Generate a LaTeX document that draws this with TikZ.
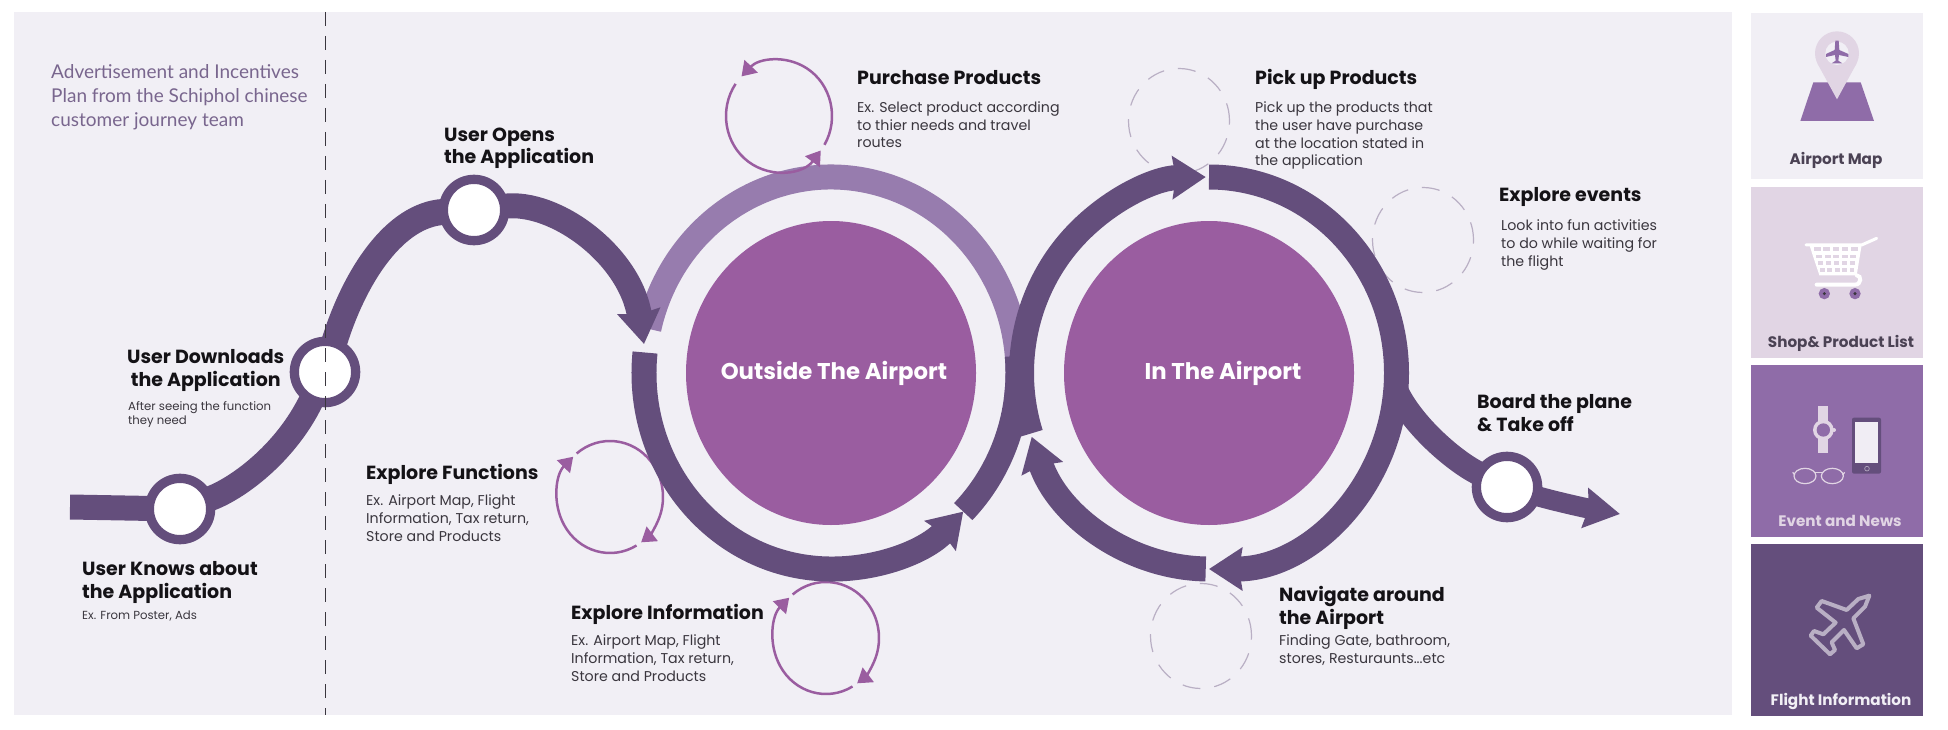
\documentclass[tikz,border=0pt]{standalone}
\usepackage{fontspec}
\setmainfont{Poppins}
\newfontfamily\notefont{Lato}
\usetikzlibrary{arrows.meta,shapes.geometric}
\definecolor{paper}{HTML}{F1EFF5}
\definecolor{plum}{HTML}{644E7C}
\definecolor{lilac}{HTML}{977CAE}
\definecolor{orchid}{HTML}{9A5DA0}
\definecolor{mauve}{HTML}{8F6CA8}
\definecolor{blush}{HTML}{E1D5E4}
\definecolor{ghost}{HTML}{B9AFC4}
\definecolor{ink}{HTML}{141216}
\definecolor{slate}{HTML}{3A363E}
\definecolor{tag}{HTML}{4B4254}

\begin{document}
\begin{tikzpicture}[x=1pt,y=1pt,text=ink,
  band/.style={line width=25pt,draw=plum},
  tipbig/.style={-{Stealth[length=33pt,width=42pt,inset=3pt]}},
  stopnode/.style={circle,draw=plum,fill=white,line width=9.3pt,minimum size=61.3pt,inner sep=0pt,outer sep=0pt},
  hub/.style={ellipse,fill=orchid,minimum width=290pt,minimum height=304pt,inner sep=0pt},
  hubtext/.style={text=white,font=\fontsize{22.8}{27}\selectfont\bfseries},
  headtext/.style={anchor=base west,align=left,inner sep=0pt,font=\fontsize{19}{22.5}\selectfont\bfseries},
  bodytext/.style={anchor=base west,align=left,inner sep=0pt,text=slate,font=\fontsize{14.2}{17.7}\selectfont},
  smalltext/.style={anchor=base west,align=left,inner sep=0pt,text=slate,font=\fontsize{11.7}{14}\selectfont},
  tagtext/.style={anchor=base,inner sep=0pt,text=tag,font=\fontsize{15.2}{18}\selectfont\bfseries},
  loopline/.style={orchid,line width=2.5pt},
  looptip/.style={-{Triangle[length=14pt,width=18pt]}},
  ghostline/.style={ghost,line width=1.2pt,dash pattern=on 18pt off 14pt}]
  \useasboundingbox (0,0) rectangle (1948,-730);

  \fill[paper] (14,-12) rectangle (1732,-715);
  \fill[paper] (1751,-13) rectangle (1923,-179);
  \fill[blush] (1751,-187) rectangle (1923,-358);
  \fill[mauve] (1751,-365) rectangle (1923,-537);
  \fill[plum] (1751,-544) rectangle (1923,-716);

  \node[anchor=base west,align=left,inner sep=0pt,text=plum!85!paper,font=\notefont\fontsize{19}{24}\selectfont] (note) at (51,-127)
    {Advertisement and Incentives\\Plan from the Schiphol chinese\\customer journey team};

  \node[hub] (outside) at (831,-373) {};
  \node[hub] (inside) at (1209,-373) {};
  \node[hubtext] (outsideLabel) at (834,-373) {Outside The Airport};
  \node[hubtext] (insideLabel) at (1223,-373) {In The Airport};

  \foreach \cx/\cy in {1179/121,1423/240,1201/636}{
    \draw[ghostline] (\cx,-\cy) ellipse (50.5 and 52.5);
  }

  \draw[band,draw=lilac] (outside.center) ++(167:187 and 196)
    arc[start angle=167,end angle=-8,x radius=187,y radius=196];

  \foreach \cx/\cy/\a/\b/\c/\d in {779/116/-31/135/145/322,610/497/129/-54/-60/-226,826/638/129/-54/-60/-226}{
    \draw[loopline,looptip] ({\cx+53*cos(\a)},{-\cy+56*sin(\a)})
      arc[start angle=\a,end angle=\b,x radius=53,y radius=56];
    \draw[loopline,looptip] ({\cx+53*cos(\c)},{-\cy+56*sin(\c)})
      arc[start angle=\c,end angle=\d,x radius=53,y radius=56];
  }

  \draw[band,tipbig] (outside.center) ++(174:187 and 196)
    arc[start angle=174,end angle=315,x radius=187,y radius=196];
  \draw[band] (outside.center) ++(-45:187 and 196)
    arc[start angle=-45,end angle=5,x radius=187,y radius=196];
  \draw[band,tipbig] (inside.center) ++(198:187.5 and 196)
    arc[start angle=198,end angle=91,x radius=187.5,y radius=196];
  \draw[band,tipbig] (inside.center) ++(90:187.5 and 196)
    arc[start angle=90,end angle=-90,x radius=187.5,y radius=196];
  \draw[band,tipbig] (inside.center) ++(-91:187.5 and 196)
    arc[start angle=269,end angle=199,x radius=187.5,y radius=196];

  \node[stopnode] (knows) at (180,-509) {};
  \node[stopnode] (downloads) at (325,-372) {};
  \node[stopnode] (opens) at (474,-210) {};
  \node[stopnode] (board) at (1507,-487) {};
  \coordinate (tail) at (70,-507);
  \coordinate (ringEntry) at (644,-344);
  \coordinate (ringExit) at (1396,-390);
  \coordinate (flightEnd) at (1620,-514);

  \draw[band] (tail) -- (knows);
  \draw[band] (knows) .. controls (235,-490) and (285,-455) .. (downloads);
  \draw[band,line width=26pt] (downloads) .. controls (355,-275) and (395,-215) .. (opens);
  \draw[band,tipbig] (opens) .. controls (555,-200) and (630,-255) .. (ringEntry);
  \draw[band,line width=24pt] (ringExit) .. controls (1412,-425) and (1455,-462) .. (board);
  \draw[band,line width=20pt,-{Stealth[length=35pt,width=39pt,inset=3pt]}] (board) .. controls (1550,-500) and (1585,-508) .. (flightEnd);

  \draw[slate,line width=.9pt,dash pattern=on 14pt off 10pt] (325,-12) -- (325,-715);

  \node[headtext] (knowsHead) at (82,-598) {User Knows about\\the Application};
  \node[smalltext] (knowsBody) at (82,-619) {Ex. From Poster, Ads};
  \node[headtext,align=center] (downloadsHead) at (127,-386) {User Downloads\\the Application};
  \node[smalltext] (downloadsBody) at (128,-424) {After seeing the function\\they need};
  \node[headtext] (opensHead) at (444,-164) {User Opens\\the Application};
  \node[headtext] (functionsHead) at (366,-479) {Explore Functions};
  \node[bodytext] (functionsBody) at (366,-541) {Ex. Airport Map, Flight\\Information, Tax return,\\Store and Products};
  \node[headtext] (infoHead) at (571,-619) {Explore Information};
  \node[bodytext] (infoBody) at (571,-681) {Ex. Airport Map, Flight\\Information, Tax return,\\Store and Products};
  \node[headtext] (purchaseHead) at (857,-85) {Purchase Products};
  \node[bodytext] (purchaseBody) at (857,-148) {Ex. Select product according\\to thier needs and travel\\routes};
  \node[headtext] (pickHead) at (1255,-85) {Pick up Products};
  \node[bodytext] (pickBody) at (1255,-166) {Pick up the products that\\the user have purchase\\at the location stated in\\the application};
  \node[headtext] (eventsHead) at (1499,-202) {Explore events};
  \node[bodytext] (eventsBody) at (1501,-266) {Look into fun activities\\to do while waiting for\\the flight};
  \node[headtext] (boardHead) at (1477,-431) {Board the plane\\\& Take off};
  \node[headtext] (navHead) at (1279,-624) {Navigate around\\the Airport};
  \node[bodytext] (navBody) at (1279,-663) {Finding Gate, bathroom,\\stores, Resturaunts...etc};

  \node[tagtext] (mapTag) at (1836,-165) {Airport Map};
  \node[tagtext] (shopTag) at (1841,-347) {Shop\& Product List};
  \node[tagtext,text=blush] (eventTag) at (1840,-526) {Event and News};
  \node[tagtext,text=paper] (flightTag) at (1841,-705) {Flight Information};

  \begin{scope}[shift={(1720,0)},x=.3333pt,y=-.3333pt]
    \fill[mauve] (280,247) -- (422,247) -- (462,363) -- (241,363) -- cycle;
    \fill[blush] (351,160) circle (66);
    \fill[blush] (351,298) -- (292,190) -- (410,190) -- cycle;
    \fill[paper] (351,160) circle (35);
    \fill[mauve] (346,122) -- (356,122) -- (358,150) -- (385,162) -- (385,171) -- (357,165) -- (355,182) -- (367,190) -- (335,190) -- (347,182) -- (345,165) -- (318,171) -- (318,162) -- (344,150) -- cycle;

    \draw[white,line width=3pt,line cap=round] (258,735) -- (425,735) -- (470,715);
    \fill[white] (268,735) -- (425,735) -- (410,826) -- (298,826) -- cycle;
    \foreach \rowy/\rowa/\rowb in {748/278/417,770/284/413,790/290/410,811/296/407}{
      \foreach \k in {0,1,2,3,4}{
        \fill[blush] ({\rowa+\k*(\rowb-\rowa)/5+4},\rowy-6) rectangle ({\rowa+(\k+1)*(\rowb-\rowa)/5-4},\rowy+5);
      }
    }
    \draw[white,line width=4pt,line cap=round] (410,826) .. controls (425,826) and (425,854) .. (405,854) -- (290,854);
    \foreach \wx in {313,405}{
      \fill[mauve] (\wx,881) circle (17);
      \fill[slate] (\wx,881) circle (5);
    }
  \end{scope}

  \begin{scope}[shift={(1720,-365)},x=.3333pt,y=-.3333pt]
    \fill[blush] (295,123) rectangle (325,263);
    \fill[blush] (310,195) circle (31);
    \fill[mauve] (310,195) circle (20);
    \fill[blush] (342,195) circle (6);
    \fill[plum,rounded corners=2pt] (396,158) rectangle (483,326);
    \fill[paper!92!blush] (404,172) rectangle (475,295);
    \draw[ghost,line width=.6pt] (441,311) circle (7);
    \draw[blush,line width=1.2pt] (255,333) ellipse (33 and 23);
    \draw[blush,line width=1.2pt] (337,333) ellipse (33 and 23);
    \draw[blush,line width=1.2pt] (285,322) -- (307,322);
    \draw[blush,line width=1.2pt] (218,322) -- (224,330);
    \draw[blush,line width=1.2pt] (374,322) -- (368,330);
    \draw[ghost,line width=4pt,line join=round] (448,692) -- (415,702) -- (380,735) -- (305,708) -- (290,728) -- (347,773) -- (310,808) -- (282,798) -- (272,812) -- (330,868) -- (345,855) -- (335,832) -- (372,795) -- (410,850) -- (430,838) -- (400,760) -- (435,725) -- cycle;
  \end{scope}
\end{tikzpicture}
\end{document}
